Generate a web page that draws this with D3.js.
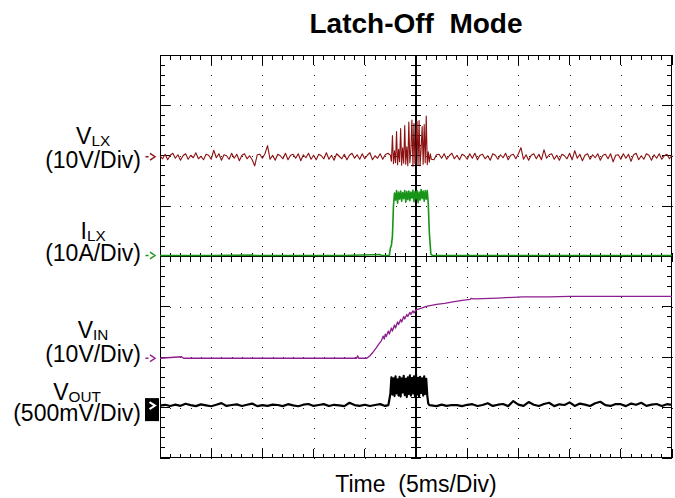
<!DOCTYPE html>
<html>
<head>
<meta charset="utf-8">
<script src="https://cdn.jsdelivr.net/npm/d3@7/dist/d3.min.js"></script>
<style>
body { margin: 0; background: #fff; }
text { font-family: "Liberation Sans", Arial, sans-serif; fill: #000; }
</style>
</head>
<body>
<div id="scope"></div>
<script>
// channel setup
var chanName = ["V", "I", "V", "V"];
var chanSub = ["LX", "LX", "IN", "OUT"];
var chanScale = ["(10V/Div)", "(10A/Div)", "(10V/Div)", "(500mV/Div)"];
var chanPerDiv = [10, 10, 10, 500];      // units per division
var chanOffset = [1.98, 0.02, -2.02, -2.96]; // ground marker, in divisions
var chanColor = ["#8c1111", "#189418", "#8e1e8e", "#000000"];

// VLX (V), sampled every 0.25 ms
var vlxStep = 0.25;
var vlxNoise = [
  0.2,-0.4,0.5,-0.6,0.3,0.7,-0.3,0.4,-0.7,0.2,0.6,-0.5,0.3,-0.2,0.8,-0.4,0.1,-0.6,0.5,0.3,
  -0.5,1.3,-0.2,0.6,-0.7,0.4,0.2,-0.5,0.7,-0.3,0.5,-0.8,0.3,0.6,-0.4,0.2,-0.6,-1.8,0.4,0.5,
  -0.3,0.6,2.2,-0.5,0.3,-0.7,0.5,0.2,-0.4,0.7,-0.6,0.3,0.5,-0.3,0.6,-0.8,0.4,-0.2,0.7,-0.5,
  0.3,-0.6,0.5,0.2,-0.4,0.8,-0.5,0.3,-0.7,0.6,0.1,-0.4,0.5,-0.6,0.3,0.7,-0.3,0.4,-0.5,0.6,
  -0.4,0.3,0.8,-0.6,0.2,-0.3,0.6,-0.5,0.4,0.7,-0.7,0.3,0.5,-0.4,0.6,-0.3,0.4,-0.6,0.5,0.2,
  -0.4,0.6,-0.5,0.3,0.7,-0.2,0.4,-0.6,0.4,0.5,-0.3,0.6,-0.5,0.2,0.7,-0.4,0.3,-0.6,0.5,0.2,
  -0.5,0.6,-0.3,0.7,-0.6,0.3,0.5,-0.4,0.2,-0.7,0.6,0.3,-0.5,0.4,-0.2,0.7,-0.6,0.3,0.5,-0.4,
  0.6,1.8,-0.5,0.4,-0.7,0.3,0.6,-0.4,0.5,-0.6,1.4,-0.3,0.4,0.6,-0.5,0.3,-0.7,0.5,0.2,-0.4,
  0.7,-0.6,1.2,-0.3,0.5,-0.8,0.3,0.6,-0.5,0.4,-0.2,0.6,-0.7,0.3,0.5,-0.4,0.6,-1.0,0.3,0.4,
  -0.5,0.6,-0.3,0.5,-0.9,0.4,0.7,-0.6,0.2,-0.5,0.6,0.3,-0.7,0.4,-0.3,0.6,-0.5,0.2,0.5,-0.4,
  0.3
];
// switching burst [ms, V]
var vlxBurst = [
  [22.5,0.3],[22.6,-0.9],[22.7,4.2],[22.8,-1.4],[22.9,1.2],[23.0,-1.2],[23.1,5.0],[23.2,-1.6],
  [23.3,1.5],[23.4,-1.0],[23.5,5.6],[23.6,-1.7],[23.7,1.8],[23.8,-1.3],[23.9,6.2],[24.0,-1.5],
  [24.1,2.0],[24.2,-1.8],[24.3,6.9],[24.4,-1.2],[24.5,1.4],[24.6,7.3],[24.7,-1.9],[24.8,6.6],
  [24.9,-1.4],[25.0,2.2],[25.1,7.0],[25.2,-1.6],[25.3,7.2],[25.4,-1.8],[25.5,1.6],[25.6,6.0],
  [25.7,-1.5],[25.8,6.4],[25.9,-1.2],[26.0,8.1],[26.1,-1.6],[26.2,1.0],[26.3,-1.1],[26.4,0.6],[26.5,-0.5]
];

// ILX (A) [ms, A]
var ilxPoints = [
  [0,0],[5,0],[9,0.1],[9.2,0],[18,0],[21.5,0.2],[21.6,0],[22.4,0],[22.5,1.5],[22.6,2.0],[22.7,3.9],[22.8,9.9],
  [22.9,12.4],[23.0,11.0],[23.1,12.9],[23.2,10.4],[23.3,12.6],[23.4,11.2],[23.5,12.8],[23.6,10.8],
  [23.7,12.5],[23.8,11.3],[23.9,12.9],[24.0,10.6],[24.1,12.7],[24.2,11.1],[24.3,12.8],[24.4,10.9],
  [24.5,12.6],[24.6,11.4],[24.7,13.0],[24.8,10.7],[24.9,12.7],[25.0,11.2],[25.1,12.9],[25.2,10.5],
  [25.3,12.6],[25.4,11.0],[25.5,13.1],[25.6,11.3],[25.7,12.8],[25.8,10.8],[25.9,12.9],[26.0,11.2],
  [26.1,12.9],[26.2,10.2],[26.3,4.6],[26.45,0.3],[26.6,0],[30,0],[30.1,0.2],[30.2,0],[50,0]
];

// VIN (V) [ms, V]
var vinPoints = [
  [0,0],[2.1,0.3],[2.3,0],[19.2,0],[19.3,0.5],[19.4,0],[20.2,0],[20.5,0.5],[20.8,1.2],[21.1,2.0],
  [21.4,2.9],[21.6,3.4],[21.8,4.4],[21.9,3.8],[22.0,4.8],[22.1,4.3],[22.3,5.4],[22.4,4.8],[22.6,6.0],
  [22.7,5.4],[22.9,6.6],[23.0,6.0],[23.2,7.2],[23.3,6.7],[23.5,7.7],[23.6,7.2],[23.8,8.3],[23.9,7.8],
  [24.1,8.7],[24.2,8.3],[24.4,9.1],[24.5,8.7],[24.7,9.4],[24.8,9.0],[25.0,9.6],[25.3,9.8],[25.6,10.0],
  [26.0,10.3],[26.5,10.5],[27.0,10.7],[27.8,10.9],[28.6,11.2],[29.5,11.5],[30.3,11.7],[30.4,11.9],
  [30.6,11.8],[31.5,11.85],[33,11.95],[35.4,12.2],[38,12.2],[40,12.3],[45,12.3],[50,12.3]
];

// VOUT (mV), sampled every 0.5 ms
var voutStep = 0.5;
var voutNoise = [
  0,8,-4,10,-2,18,5,-5,12,3,
  -6,9,25,-3,6,12,-4,8,20,-5,
  4,-3,10,6,-5,14,3,-6,9,16,
  -3,6,15,-4,8,3,-5,28,5,-3,
  9,-4,6,15,-3,5,-3,7,4,-2,
  6,-4,8,3,-5,10,-3,6,4,-5,
  8,14,-4,6,24,-3,9,16,-5,45,
  10,-3,35,8,-4,16,28,-5,13,6,
  32,-3,20,10,-4,24,38,5,-3,16,
  14,-5,20,8,28,-3,10,16,-4,14,
  8
];
// output bump while switching [ms, mV]
var voutBurst = [
  [22.3,5],[22.4,60],[22.5,120],[22.6,280],[22.7,110],[22.8,270],[22.9,95],[23.0,290],[23.1,120],
  [23.2,260],[23.3,100],[23.4,285],[23.5,90],[23.6,270],[23.7,130],[23.8,295],[23.9,105],[24.0,265],
  [24.1,85],[24.2,280],[24.3,115],[24.4,300],[24.5,100],[24.6,270],[24.7,120],[24.8,290],[24.9,95],
  [25.0,310],[25.1,110],[25.2,275],[25.3,90],[25.4,285],[25.5,125],[25.6,270],[25.7,100],[25.8,290],
  [25.9,115],[26.0,265],[26.1,100],[26.2,20],[26.3,5]
];

var width = 675, height = 498;

var svg = d3.select("#scope").append("svg")
  .attr("width", width)
  .attr("height", height);

// 10 x 5ms across, 8 divisions up
var xScale = d3.scaleLinear().domain([0, 50]).range([160, 672]);
var yScale = d3.scaleLinear().domain([-4, 4]).range([458, 55]);

var grid = svg.append("g").attr("shape-rendering", "crispEdges");

//Dotted graticule
var minorX = d3.range(0, 50.001, 1);
var minorY = d3.range(-4, 4.001, 0.2);
[5, 10, 15, 20, 30, 35, 40, 45].forEach(function(t) {
  grid.selectAll(null).data(minorY).enter().append("rect")
    .attr("x", Math.round(xScale(t)))
    .attr("y", function(d) { return Math.round(yScale(d)); })
    .attr("width", 1).attr("height", 1).attr("fill", "#222");
});
[-3, -2, -1, 1, 2, 3].forEach(function(d) {
  grid.selectAll(null).data(minorX).enter().append("rect")
    .attr("x", function(t) { return Math.round(xScale(t)); })
    .attr("y", Math.round(yScale(d)))
    .attr("width", 1).attr("height", 1).attr("fill", "#222");
});

//Frame
grid.append("rect")
  .attr("x", 160.5).attr("y", 55.5)
  .attr("width", 511).attr("height", 402)
  .attr("fill", "none").attr("stroke", "#000").attr("stroke-width", 1);

//Edge ticks
minorX.forEach(function(t) {
  var len = t % 5 === 0 ? 10 : 5;
  grid.append("line").attr("x1", xScale(t)).attr("x2", xScale(t))
    .attr("y1", 55).attr("y2", 55 + len).attr("stroke", "#000");
  grid.append("line").attr("x1", xScale(t)).attr("x2", xScale(t))
    .attr("y1", 458).attr("y2", 458 - len + 1).attr("stroke", "#000");
});
minorY.forEach(function(d) {
  var len = Math.abs(d - Math.round(d)) < 0.01 ? 10 : 5;
  grid.append("line").attr("y1", yScale(d)).attr("y2", yScale(d))
    .attr("x1", 160).attr("x2", 160 + len).attr("stroke", "#000");
  grid.append("line").attr("y1", yScale(d)).attr("y2", yScale(d))
    .attr("x1", 672).attr("x2", 672 - len).attr("stroke", "#000");
});

//Center cross with ticks
grid.append("line")
  .attr("x1", xScale(25)).attr("x2", xScale(25))
  .attr("y1", yScale(4)).attr("y2", yScale(-4))
  .attr("stroke", "#000").attr("stroke-width", 2);
grid.append("line")
  .attr("x1", xScale(0)).attr("x2", xScale(50))
  .attr("y1", yScale(0)).attr("y2", yScale(0))
  .attr("stroke", "#000").attr("stroke-width", 1.5);
minorY.forEach(function(d) {
  grid.append("line").attr("y1", yScale(d)).attr("y2", yScale(d))
    .attr("x1", xScale(25) - 5).attr("x2", xScale(25) + 5).attr("stroke", "#000");
});
minorX.forEach(function(t) {
  grid.append("line").attr("x1", xScale(t)).attr("x2", xScale(t))
    .attr("y1", yScale(0) - 4).attr("y2", yScale(0) + 5).attr("stroke", "#000");
});

// build the sample sets
var vlxData = vlxNoise.map(function(v, i) { return [i * vlxStep, v]; })
  .filter(function(d) { return d[0] < 22.45 || d[0] > 26.55; })
  .concat(vlxBurst)
  .sort(function(a, b) { return a[0] - b[0]; });

var voutData = voutNoise.map(function(v, i) { return [i * voutStep, v]; })
  .filter(function(d) { return d[0] < 22.25 || d[0] > 26.35; })
  .concat(voutBurst)
  .sort(function(a, b) { return a[0] - b[0]; });

var traces = [vlxData, ilxPoints, vinPoints, voutData];
var widths = [1.1, 1.6, 1.3, 2.2];

traces.forEach(function(data, c) {
  var line = d3.line()
    .x(function(d) { return xScale(d[0]); })
    .y(function(d) { return yScale(chanOffset[c] + d[1] / chanPerDiv[c]); });

  svg.append("path")
    .datum(data)
    .attr("d", line)
    .attr("fill", "none")
    .attr("stroke", chanColor[c])
    .attr("stroke-width", widths[c])
    .attr("stroke-linejoin", "round");
});

//Ground markers
chanOffset.forEach(function(off, c) {
  var y = yScale(off);
  if (c < 3) {
    svg.append("path")
      .attr("d", "M145.5," + y + "h3M150," + (y - 3.3) + "L155," + y + "L150," + (y + 3.3))
      .attr("fill", "none")
      .attr("stroke", chanColor[c])
      .attr("stroke-width", 1.4);
  } else {
    svg.append("rect")
      .attr("x", 145).attr("y", y - 7.5)
      .attr("width", 14).attr("height", 23)
      .attr("fill", "#000");
    svg.append("path")
      .attr("d", "M149.5," + (y - 3.5) + "L155," + y + "L149.5," + (y + 3.5))
      .attr("fill", "none")
      .attr("stroke", "#fff")
      .attr("stroke-width", 2);
  }
});

//Channel labels
var labelBase = [[144.3, 168.1], [239.3, 261.1], [337.7, 361.8], [400, 421]];
chanName.forEach(function(name, c) {
  var second = svg.append("text")
    .attr("x", 141).attr("y", labelBase[c][1])
    .attr("text-anchor", "end")
    .style("font-size", "23px")
    .text(chanScale[c]);
  var w = second.node().getComputedTextLength();

  var first = svg.append("text")
    .attr("x", 141 - w / 2).attr("y", labelBase[c][0])
    .attr("text-anchor", "middle")
    .style("font-size", "23px");
  first.append("tspan").text(name);
  first.append("tspan")
    .attr("dy", 2)
    .style("font-size", "15.3px")
    .text(chanSub[c]);
});

//Title and time base
svg.append("text")
  .attr("x", xScale(25)).attr("y", 33)
  .attr("text-anchor", "middle")
  .style("font-size", "28px")
  .style("font-weight", "bold")
  .text("Latch-Off\u00a0 Mode");

svg.append("text")
  .attr("x", xScale(25)).attr("y", 492)
  .attr("text-anchor", "middle")
  .style("font-size", "23px")
  .text("Time\u00a0 (5ms/Div)");
</script>
</body>
</html>
